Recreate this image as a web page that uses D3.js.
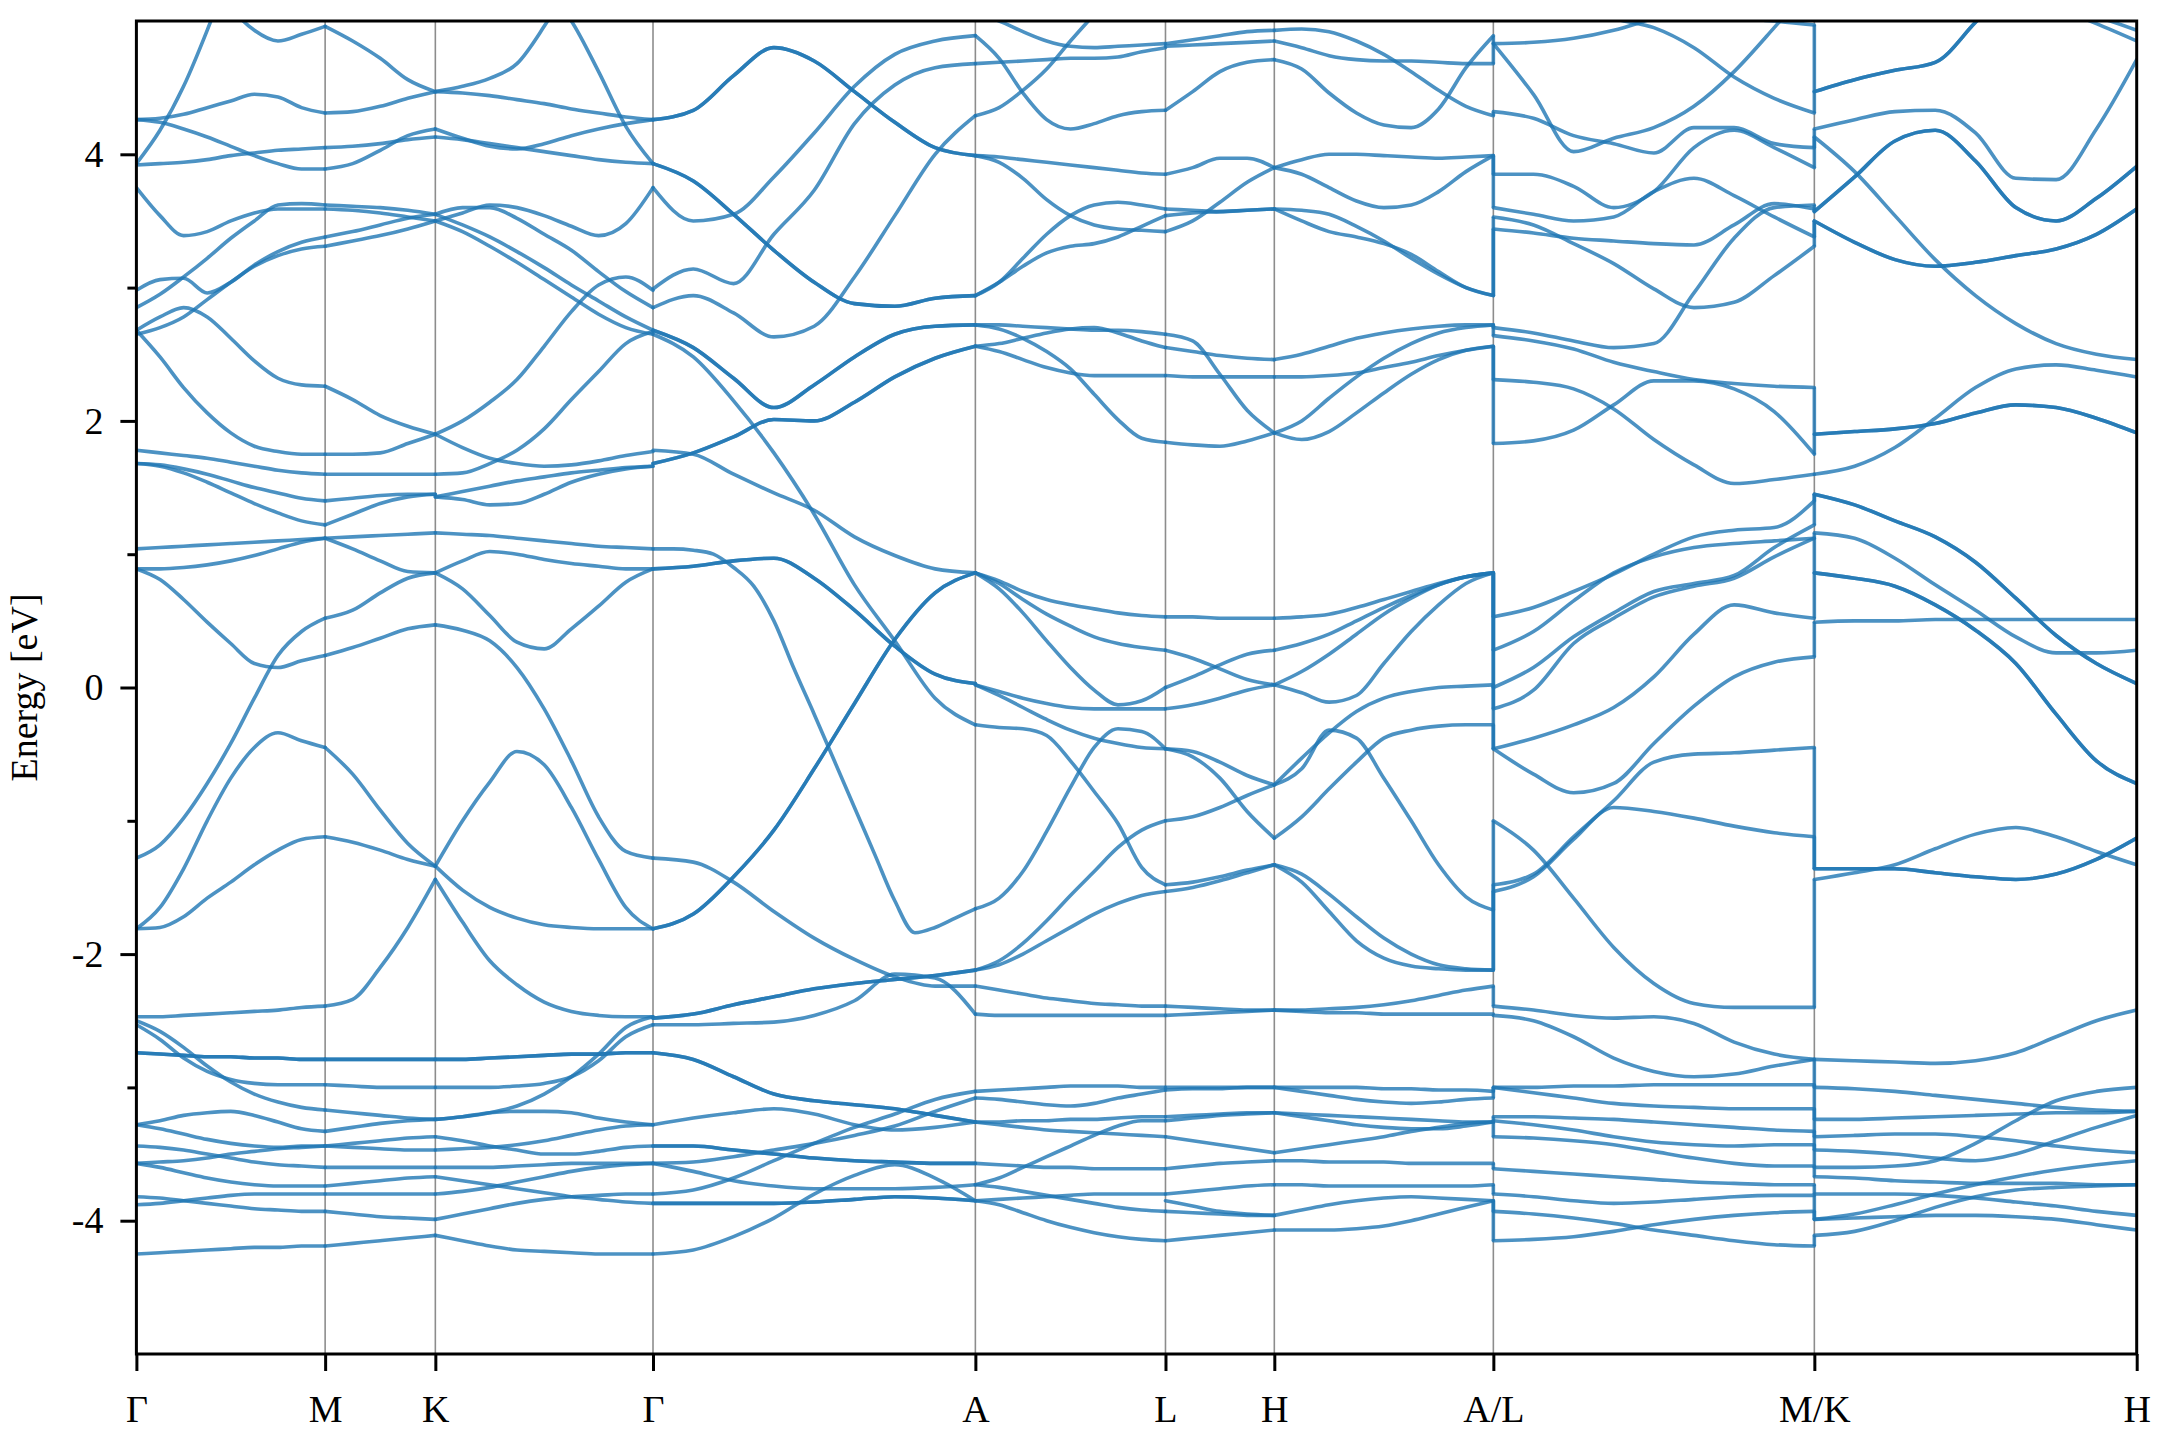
<!DOCTYPE html>
<html><head><meta charset="utf-8">
<script src="https://cdn.jsdelivr.net/npm/d3@7"></script>
<style>body{margin:0;background:#fff}svg{display:block}</style>
</head><body><svg id="c" width="2160" height="1440"></svg>
<script>
// k-path tick positions (distance units) and labels
const kTicks = [0, 1.37, 2.17, 3.75, 6.09, 7.47, 8.26, 9.85, 12.18, 14.52];
const kLabels = ["Γ","M","K","Γ","A","L","H","A/L","M/K","H"];
const yMajor = [-4, -2, 0, 2, 4];
const yMinor = [-3, -1, 1, 3];

// bands per segment: energies (eV) at evenly spaced k along the segment
const seg_GM = [
[3.93,4.18,4.51,4.93,5.4,5.9,6.3,6.6,6.8],
[6.2,5.9,5.6,5.35,5.1,4.93,4.85,4.90,4.96],
[4.26,4.27,4.30,4.35,4.40,4.45,4.43,4.35,4.31],
[4.26,4.24,4.19,4.13,4.06,3.99,3.93,3.89,3.89],
[3.92,3.93,3.94,3.96,3.99,4.01,4.03,4.04,4.05],
[3.75,3.54,3.39,3.42,3.50,3.56,3.59,3.59,3.59],
[2.85,2.95,3.08,3.22,3.37,3.50,3.62,3.63,3.62],
[2.98,3.06,3.07,2.96,3.04,3.17,3.27,3.34,3.38],
[2.65,2.70,2.78,2.91,3.04,3.16,3.24,3.29,3.31],
[2.68,2.78,2.85,2.78,2.62,2.45,2.32,2.27,2.26],
[2.68,2.48,2.25,2.06,1.91,1.81,1.77,1.75,1.75],
[1.78,1.76,1.74,1.72,1.69,1.66,1.63,1.61,1.60],
[1.68,1.67,1.64,1.60,1.55,1.50,1.46,1.42,1.40],
[1.68,1.66,1.61,1.54,1.46,1.38,1.31,1.25,1.22],
[1.04,1.05,1.06,1.07,1.08,1.09,1.10,1.11,1.12],
[0.89,0.89,0.90,0.92,0.95,0.99,1.04,1.09,1.12],
[0.89,0.81,0.66,0.49,0.33,0.18,0.15,0.20,0.24],
[-1.28,-1.18,-0.98,-0.72,-0.42,-0.08,0.24,0.42,0.52],
[-1.81,-1.65,-1.36,-1.0,-0.68,-0.45,-0.34,-0.40,-0.45],
[-1.81,-1.80,-1.72,-1.58,-1.46,-1.33,-1.22,-1.14,-1.12],
[-2.47,-2.47,-2.46,-2.45,-2.44,-2.43,-2.42,-2.40,-2.39],
[-2.53,-2.64,-2.78,-2.88,-2.94,-2.97,-2.98,-2.98,-2.98],
[-2.50,-2.58,-2.70,-2.84,-2.96,-3.05,-3.11,-3.15,-3.17],
[-2.74,-2.75,-2.76,-2.77,-2.77,-2.78,-2.78,-2.79,-2.79],
[-3.28,-3.25,-3.21,-3.19,-3.18,-3.21,-3.26,-3.31,-3.33],
[-3.28,-3.31,-3.35,-3.39,-3.42,-3.44,-3.45,-3.44,-3.44],
[-3.44,-3.45,-3.47,-3.50,-3.53,-3.56,-3.58,-3.59,-3.60],
[-3.57,-3.60,-3.64,-3.68,-3.71,-3.73,-3.74,-3.74,-3.74],
[-3.57,-3.56,-3.55,-3.53,-3.50,-3.48,-3.46,-3.45,-3.44],
[-3.82,-3.83,-3.85,-3.87,-3.89,-3.91,-3.92,-3.93,-3.93],
[-3.88,-3.87,-3.85,-3.83,-3.81,-3.80,-3.80,-3.80,-3.80],
[-4.25,-4.24,-4.23,-4.22,-4.21,-4.20,-4.20,-4.19,-4.19]
];
const seg_MK = [
[4.96,4.85,4.72,4.56,4.47],
[4.31,4.32,4.36,4.42,4.47],
[4.05,4.06,4.08,4.11,4.13],
[3.89,3.93,4.03,4.14,4.19],
[3.62,3.61,3.60,3.58,3.55],
[3.59,3.58,3.56,3.53,3.50],
[3.38,3.42,3.47,3.52,3.55],
[3.31,3.35,3.39,3.44,3.50],
[2.26,2.16,2.04,1.96,1.90],
[1.75,1.75,1.76,1.83,1.90],
[1.60,1.60,1.60,1.60,1.60],
[1.40,1.42,1.44,1.45,1.45],
[1.22,1.30,1.38,1.43,1.45],
[1.12,1.13,1.14,1.15,1.16],
[1.12,1.04,0.95,0.87,0.86],
[0.52,0.58,0.71,0.82,0.86],
[0.24,0.30,0.37,0.44,0.47],
[-0.45,-0.65,-0.92,-1.17,-1.34],
[-1.12,-1.16,-1.22,-1.29,-1.34],
[-2.39,-2.34,-2.10,-1.80,-1.44],
[-2.79,-2.79,-2.79,-2.79,-2.79],
[-2.98,-2.99,-3.00,-3.00,-3.00],
[-3.17,-3.19,-3.21,-3.23,-3.24],
[-3.33,-3.30,-3.27,-3.25,-3.24],
[-3.44,-3.42,-3.40,-3.38,-3.37],
[-3.44,-3.45,-3.46,-3.47,-3.47],
[-3.60,-3.60,-3.60,-3.60,-3.60],
[-3.74,-3.72,-3.70,-3.68,-3.67],
[-3.80,-3.80,-3.80,-3.80,-3.80],
[-3.93,-3.95,-3.97,-3.98,-3.99],
[-4.19,-4.17,-4.15,-4.13,-4.11]
];
const seg_KG = [
[4.47,4.51,4.57,4.68,4.96,5.3,5.6,5.9,6.2],
[6.4,6.1,5.8,5.5,5.25,5.0,4.62,4.21,3.93],
[4.47,4.46,4.44,4.41,4.38,4.34,4.31,4.28,4.26],
[4.13,4.11,4.08,4.05,4.02,3.99,3.96,3.94,3.93],
[4.19,4.12,4.06,4.04,4.08,4.14,4.19,4.23,4.26],
[3.55,3.60,3.60,3.52,3.40,3.28,3.12,2.97,2.85],
[3.50,3.56,3.62,3.60,3.54,3.46,3.39,3.48,3.75],
[3.55,3.47,3.38,3.27,3.15,3.02,2.90,2.78,2.68],
[3.50,3.42,3.31,3.19,3.06,2.93,2.80,2.70,2.65],
[1.90,2.00,2.14,2.31,2.56,2.82,3.02,3.08,2.98],
[1.90,1.80,1.72,1.68,1.66,1.67,1.70,1.74,1.77],
[1.60,1.61,1.68,1.78,1.94,2.16,2.37,2.58,2.67],
[1.43,1.41,1.37,1.38,1.45,1.54,1.60,1.64,1.66],
[1.43,1.47,1.51,1.55,1.58,1.61,1.63,1.65,1.66],
[1.16,1.15,1.14,1.12,1.10,1.08,1.06,1.05,1.04],
[0.86,0.95,1.02,1.00,0.96,0.93,0.91,0.89,0.89],
[0.86,0.74,0.54,0.34,0.29,0.44,0.61,0.79,0.89],
[0.47,0.43,0.35,0.15,-0.16,-0.55,-0.97,-1.23,-1.28],
[-1.34,-1.0,-0.71,-0.48,-0.58,-0.90,-1.29,-1.65,-1.81],
[-1.34,-1.52,-1.65,-1.73,-1.78,-1.80,-1.81,-1.81,-1.81],
[-1.44,-1.76,-2.05,-2.23,-2.36,-2.43,-2.46,-2.47,-2.47],
[-2.79,-2.79,-2.78,-2.77,-2.76,-2.75,-2.75,-2.74,-2.74],
[-3.00,-3.00,-3.00,-2.99,-2.97,-2.92,-2.80,-2.62,-2.53],
[-3.24,-3.22,-3.19,-3.14,-3.05,-2.92,-2.75,-2.55,-2.47],
[-3.24,-3.22,-3.19,-3.18,-3.18,-3.19,-3.23,-3.26,-3.28],
[-3.37,-3.40,-3.44,-3.47,-3.50,-3.50,-3.48,-3.45,-3.44],
[-3.47,-3.46,-3.45,-3.43,-3.40,-3.36,-3.32,-3.29,-3.28],
[-3.60,-3.60,-3.60,-3.59,-3.58,-3.57,-3.57,-3.57,-3.57],
[-3.67,-3.70,-3.73,-3.76,-3.79,-3.82,-3.84,-3.86,-3.87],
[-3.80,-3.78,-3.75,-3.71,-3.67,-3.63,-3.60,-3.58,-3.57],
[-3.99,-3.95,-3.91,-3.87,-3.84,-3.82,-3.81,-3.80,-3.80],
[-4.11,-4.15,-4.19,-4.22,-4.23,-4.24,-4.25,-4.25,-4.25]
];
const seg_GA = [
[4.26,4.33,4.59,4.80,4.70,4.47,4.24,4.05,3.99],
[3.93,3.80,3.55,3.28,3.04,2.88,2.86,2.92,2.94],
[3.75,3.50,3.55,3.83,4.16,4.51,4.75,4.85,4.89],
[2.99,3.14,3.03,3.40,3.73,4.23,4.52,4.65,4.68],
[2.85,2.94,2.81,2.63,2.71,3.08,3.54,4.00,4.29],
[2.68,2.55,2.32,2.10,2.27,2.48,2.65,2.71,2.72],
[2.65,2.48,2.15,1.76,1.30,0.77,0.35,-0.08,-0.28],
[1.78,1.75,1.60,1.46,1.33,1.13,0.99,0.89,0.86],
[1.68,1.76,1.88,2.01,2.00,2.14,2.33,2.47,2.56],
[1.04,1.04,1.03,1.00,0.90,0.76,0.50,0.14,-0.20,-0.55,-0.90,-1.25,-1.60,-1.84,-1.80,-1.73,-1.66],
[0.89,0.91,0.95,0.97,0.82,0.58,0.31,0.10,0.03],
[-1.81,-1.70,-1.42,-1.07,-0.61,-0.12,0.36,0.71,0.86],
[-1.28,-1.31,-1.46,-1.68,-1.88,-2.04,-2.17,-2.24,-2.24],
[-2.48,-2.45,-2.38,-2.32,-2.26,-2.22,-2.19,-2.16,-2.12],
[-2.53,-2.53,-2.52,-2.51,-2.46,-2.35,-2.15,-2.18,-2.45],
[-2.74,-2.79,-2.92,-3.05,-3.10,-3.13,-3.16,-3.21,-3.26],
[-3.28,-3.23,-3.19,-3.16,-3.20,-3.28,-3.32,-3.30,-3.26],
[-3.44,-3.44,-3.47,-3.50,-3.53,-3.55,-3.56,-3.57,-3.57],
[-3.57,-3.63,-3.70,-3.74,-3.76,-3.76,-3.76,-3.75,-3.73],
[-3.80,-3.77,-3.68,-3.55,-3.42,-3.30,-3.20,-3.09,-3.03],
[-3.57,-3.56,-3.52,-3.47,-3.42,-3.36,-3.29,-3.18,-3.08],
[-3.87,-3.87,-3.87,-3.87,-3.86,-3.84,-3.82,-3.83,-3.85],
[-4.25,-4.22,-4.12,-3.98,-3.80,-3.66,-3.58,-3.68,-3.85]
];
const seg_AL = [
[4.89,4.72,4.46,4.26,4.19,4.23,4.29,4.32,4.33],
[4.68,4.69,4.70,4.71,4.72,4.72,4.73,4.77,4.80],
[4.29,4.35,4.48,4.64,4.85,5.05,5.25,5.45,5.6],
[5.05,5.00,4.92,4.85,4.81,4.80,4.81,4.82,4.83],
[3.99,3.98,3.96,3.94,3.92,3.90,3.88,3.86,3.85],
[3.99,3.94,3.82,3.66,3.54,3.47,3.44,3.43,3.42],
[2.94,3.04,3.22,3.40,3.54,3.62,3.64,3.62,3.59],
[2.94,3.04,3.16,3.26,3.31,3.33,3.38,3.46,3.54],
[2.72,2.72,2.71,2.70,2.69,2.68,2.68,2.67,2.65],
[2.72,2.69,2.62,2.52,2.39,2.20,2.01,1.87,1.84],
[2.56,2.52,2.46,2.40,2.36,2.34,2.34,2.34,2.34],
[2.56,2.58,2.62,2.66,2.69,2.70,2.66,2.60,2.55],
[0.86,0.80,0.72,0.66,0.62,0.59,0.56,0.54,0.53],
[0.86,0.78,0.66,0.55,0.46,0.38,0.33,0.30,0.28],
[0.86,0.74,0.56,0.35,0.15,-0.02,-0.13,-0.10,0.00],
[0.02,-0.03,-0.08,-0.12,-0.15,-0.16,-0.16,-0.16,-0.16],
[0.02,-0.06,-0.15,-0.24,-0.32,-0.38,-0.42,-0.45,-0.46],
[-0.28,-0.30,-0.31,-0.36,-0.55,-0.78,-1.02,-1.35,-1.48],
[-1.66,-1.58,-1.38,-1.08,-0.75,-0.45,-0.31,-0.33,-0.46],
[-2.12,-2.05,-1.92,-1.75,-1.56,-1.38,-1.20,-1.07,-1.00],
[-2.12,-2.08,-2.00,-1.90,-1.80,-1.70,-1.62,-1.56,-1.53],
[-2.24,-2.27,-2.30,-2.33,-2.35,-2.37,-2.38,-2.39,-2.39],
[-2.45,-2.46,-2.46,-2.46,-2.46,-2.46,-2.46,-2.46,-2.46],
[-3.03,-3.02,-3.01,-3.00,-2.99,-2.99,-2.99,-3.00,-3.00],
[-3.08,-3.09,-3.11,-3.13,-3.14,-3.12,-3.08,-3.05,-3.02],
[-3.26,-3.26,-3.25,-3.25,-3.24,-3.24,-3.23,-3.22,-3.22],
[-3.26,-3.28,-3.30,-3.32,-3.33,-3.34,-3.35,-3.36,-3.37],
[-3.57,-3.58,-3.59,-3.60,-3.60,-3.61,-3.61,-3.61,-3.61],
[-3.73,-3.68,-3.60,-3.52,-3.44,-3.36,-3.29,-3.25,-3.25],
[-3.85,-3.84,-3.83,-3.82,-3.81,-3.80,-3.80,-3.80,-3.80],
[-3.85,-3.88,-3.94,-4.00,-4.05,-4.09,-4.12,-4.14,-4.15],
[-3.73,-3.75,-3.78,-3.81,-3.84,-3.87,-3.90,-3.92,-3.93]
];
const seg_LH = [
[4.81,4.82,4.83,4.84,4.85],
[4.83,4.86,4.89,4.92,4.93],
[4.33,4.47,4.62,4.69,4.71],
[3.85,3.90,3.97,3.97,3.90],
[3.42,3.50,3.64,3.79,3.90],
[3.59,3.58,3.57,3.58,3.59],
[3.54,3.56,3.57,3.58,3.59],
[2.65,2.60,2.35,2.08,1.91],
[2.55,2.52,2.49,2.47,2.46],
[2.34,2.33,2.33,2.33,2.33],
[1.84,1.82,1.81,1.85,1.91],
[0.53,0.53,0.52,0.52,0.52],
[0.28,0.22,0.14,0.06,0.02],
[0.00,0.08,0.17,0.25,0.28],
[-0.16,-0.13,-0.08,-0.02,0.02],
[-0.46,-0.48,-0.56,-0.66,-0.73],
[-0.46,-0.52,-0.68,-0.93,-1.13],
[-1.00,-0.97,-0.90,-0.81,-0.73],
[-1.48,-1.46,-1.42,-1.37,-1.33],
[-1.53,-1.50,-1.45,-1.39,-1.33],
[-2.39,-2.40,-2.41,-2.42,-2.42],
[-2.46,-2.45,-2.44,-2.43,-2.42],
[-3.00,-3.00,-3.00,-3.00,-3.00],
[-3.02,-3.01,-3.01,-3.00,-3.00],
[-3.22,-3.21,-3.20,-3.19,-3.19],
[-3.25,-3.23,-3.21,-3.20,-3.19],
[-3.37,-3.40,-3.43,-3.46,-3.49],
[-3.61,-3.59,-3.57,-3.56,-3.55],
[-3.80,-3.78,-3.76,-3.74,-3.73],
[-3.85,-3.89,-3.93,-3.95,-3.96],
[-3.93,-3.94,-3.95,-3.96,-3.96],
[-4.15,-4.13,-4.11,-4.09,-4.07]
];
const seg_HA = [
[4.93,4.94,4.92,4.85,4.75,4.62,4.48,4.36,4.29],
[4.85,4.80,4.74,4.71,4.70,4.70,4.69,4.68,4.68],
[4.71,4.64,4.46,4.31,4.22,4.20,4.34,4.65,4.89],
[3.90,3.96,4.00,4.00,3.99,3.98,3.97,3.98,3.99],
[3.90,3.85,3.75,3.65,3.60,3.62,3.72,3.87,3.99],
[3.59,3.58,3.55,3.46,3.35,3.22,3.10,3.00,2.94],
[3.59,3.50,3.42,3.38,3.33,3.25,3.12,3.00,2.94],
[2.46,2.50,2.56,2.62,2.66,2.69,2.71,2.72,2.72],
[2.33,2.33,2.34,2.36,2.40,2.44,2.49,2.53,2.56],
[1.91,2.00,2.17,2.33,2.47,2.58,2.66,2.70,2.72],
[1.91,1.86,1.92,2.06,2.21,2.35,2.46,2.53,2.56],
[0.52,0.53,0.55,0.60,0.66,0.72,0.78,0.83,0.86],
[0.28,0.33,0.40,0.50,0.60,0.69,0.77,0.83,0.86],
[0.02,0.12,0.25,0.40,0.55,0.67,0.77,0.83,0.86],
[0.02,-0.04,-0.11,-0.06,0.18,0.42,0.62,0.78,0.86],
[-0.73,-0.53,-0.34,-0.18,-0.08,-0.03,0.00,0.01,0.02],
[-0.73,-0.61,-0.32,-0.38,-0.68,-1.00,-1.33,-1.57,-1.67],
[-1.13,-0.97,-0.76,-0.56,-0.38,-0.32,-0.29,-0.28,-0.28],
[-1.33,-1.46,-1.68,-1.90,-2.03,-2.09,-2.11,-2.12,-2.12],
[-1.33,-1.40,-1.55,-1.72,-1.88,-2.00,-2.08,-2.11,-2.12],
[-2.42,-2.42,-2.41,-2.40,-2.38,-2.35,-2.31,-2.27,-2.24],
[-2.42,-2.43,-2.44,-2.44,-2.45,-2.45,-2.45,-2.45,-2.45],
[-3.00,-3.00,-3.00,-3.00,-3.01,-3.01,-3.02,-3.02,-3.03],
[-3.00,-3.03,-3.06,-3.09,-3.11,-3.12,-3.11,-3.09,-3.08],
[-3.19,-3.20,-3.21,-3.22,-3.23,-3.24,-3.25,-3.26,-3.26],
[-3.19,-3.22,-3.25,-3.28,-3.30,-3.31,-3.31,-3.29,-3.26],
[-3.49,-3.46,-3.43,-3.40,-3.37,-3.33,-3.30,-3.27,-3.26],
[-3.55,-3.55,-3.56,-3.56,-3.56,-3.57,-3.57,-3.57,-3.57],
[-3.73,-3.73,-3.74,-3.74,-3.74,-3.74,-3.74,-3.74,-3.73],
[-3.96,-3.92,-3.88,-3.85,-3.83,-3.82,-3.83,-3.84,-3.85],
[-4.07,-4.07,-4.07,-4.06,-4.04,-4.00,-3.95,-3.90,-3.85]
];
const seg_LM = [
[4.83,4.84,4.87,4.93,5.02,5.10,5.20,5.30,5.40],
[5.40,5.30,5.15,5.02,4.95,4.80,4.58,4.42,4.31],
[4.83,4.45,4.02,4.12,4.20,4.36,4.62,4.95,5.30],
[4.32,4.27,4.14,4.08,4.01,4.20,4.20,4.08,4.05],
[5.30,5.20,5.10,5.05,5.05,5.05,5.02,5.00,4.97],
[3.85,3.85,3.76,3.60,3.72,4.05,4.18,4.05,3.90],
[3.60,3.55,3.50,3.53,3.72,3.82,3.69,3.53,3.38],
[3.44,3.41,3.37,3.35,3.33,3.32,3.47,3.63,3.59],
[3.53,3.47,3.33,3.18,2.99,2.85,2.89,3.09,3.31],
[2.70,2.66,2.60,2.55,2.58,2.96,3.37,3.60,3.62],
[2.64,2.60,2.54,2.44,2.37,2.31,2.28,2.26,2.25],
[2.31,2.29,2.24,2.09,1.86,1.67,1.53,1.56,1.60],
[1.83,1.85,1.93,2.12,2.30,2.30,2.24,2.07,1.75],
[0.53,0.60,0.72,0.85,1.00,1.13,1.18,1.20,1.40],
[0.28,0.42,0.65,0.86,0.98,1.05,1.08,1.10,1.12],
[0.00,0.15,0.38,0.56,0.72,0.78,0.84,1.05,1.22],
[-0.16,-0.02,0.33,0.52,0.68,0.76,0.82,0.98,1.12],
[-0.46,-0.38,-0.28,-0.15,0.08,0.40,0.62,0.56,0.52],
[-0.46,-0.65,-0.79,-0.72,-0.42,-0.14,0.08,0.19,0.23],
[-1.00,-1.22,-1.58,-1.95,-2.22,-2.37,-2.40,-2.40,-2.40],
[-1.48,-1.40,-1.12,-0.85,-0.56,-0.50,-0.49,-0.47,-0.45],
[-1.53,-1.42,-1.14,-0.90,-0.93,-0.98,-1.04,-1.09,-1.12],
[-2.39,-2.42,-2.46,-2.48,-2.47,-2.52,-2.66,-2.75,-2.79],
[-2.46,-2.50,-2.62,-2.78,-2.88,-2.92,-2.90,-2.84,-2.79],
[-3.00,-3.00,-2.99,-2.99,-2.98,-2.98,-2.98,-2.98,-2.98],
[-3.00,-3.04,-3.08,-3.12,-3.14,-3.15,-3.16,-3.16,-3.16],
[-3.22,-3.22,-3.23,-3.24,-3.26,-3.28,-3.30,-3.32,-3.33],
[-3.25,-3.28,-3.32,-3.37,-3.41,-3.43,-3.44,-3.43,-3.43],
[-3.37,-3.38,-3.40,-3.43,-3.48,-3.53,-3.57,-3.59,-3.59],
[-3.61,-3.63,-3.65,-3.67,-3.69,-3.71,-3.72,-3.73,-3.73],
[-3.80,-3.82,-3.85,-3.87,-3.86,-3.84,-3.82,-3.81,-3.81],
[-3.93,-3.95,-3.98,-4.02,-4.07,-4.11,-4.15,-4.18,-4.19],
[-4.15,-4.14,-4.12,-4.08,-4.03,-3.99,-3.96,-3.94,-3.93]
];
const seg_KH = [
[4.47,4.56,4.63,4.69,4.99,5.3,5.6,5.8,5.9],
[6.0,5.8,5.6,5.45,5.3,5.2,5.1,4.98,4.85],
[5.9,5.7,5.5,5.35,5.25,5.15,5.08,5.03,4.93],
[4.19,4.26,4.32,4.33,4.16,3.82,3.81,4.19,4.71],
[3.57,3.83,4.10,4.18,3.95,3.60,3.50,3.67,3.91],
[3.50,3.34,3.21,3.16,3.19,3.24,3.29,3.40,3.59],
[4.13,3.87,3.54,3.21,2.94,2.73,2.58,2.50,2.46],
[1.90,1.92,1.94,1.98,2.06,2.12,2.10,2.02,1.91],
[1.60,1.66,1.80,2.02,2.25,2.39,2.42,2.38,2.33],
[1.45,1.37,1.25,1.13,0.94,0.67,0.39,0.18,0.03],
[1.16,1.12,0.97,0.77,0.58,0.38,0.26,0.26,0.28],
[0.86,0.82,0.76,0.62,0.43,0.18,-0.20,-0.55,-0.72],
[0.49,0.50,0.50,0.51,0.51,0.51,0.51,0.51,0.51],
[-1.36,-1.36,-1.36,-1.39,-1.42,-1.44,-1.40,-1.29,-1.13],
[-1.44,-1.39,-1.33,-1.21,-1.10,-1.05,-1.12,-1.23,-1.33],
[-2.79,-2.80,-2.81,-2.82,-2.80,-2.74,-2.62,-2.50,-2.42],
[-3.00,-3.01,-3.03,-3.06,-3.09,-3.12,-3.15,-3.17,-3.18],
[-3.24,-3.24,-3.23,-3.22,-3.21,-3.20,-3.19,-3.19,-3.18],
[-3.37,-3.36,-3.35,-3.35,-3.37,-3.40,-3.44,-3.47,-3.49],
[-3.47,-3.48,-3.50,-3.53,-3.55,-3.50,-3.40,-3.30,-3.21],
[-3.60,-3.60,-3.59,-3.55,-3.42,-3.25,-3.10,-3.03,-3.00],
[-3.67,-3.68,-3.70,-3.71,-3.72,-3.72,-3.72,-3.73,-3.73],
[-3.80,-3.80,-3.80,-3.81,-3.83,-3.86,-3.89,-3.93,-3.96],
[-3.99,-3.95,-3.88,-3.80,-3.73,-3.67,-3.62,-3.58,-3.55],
[-4.11,-4.08,-4.00,-3.90,-3.82,-3.77,-3.75,-3.74,-3.73],
[-3.99,-3.98,-3.97,-3.96,-3.96,-3.97,-3.99,-4.03,-4.07]
];

// doubly degenerate bands (index into the segment's band list)
const deg_GA = [0, 1, 5, 8, 10, 11, 13, 15, 17, 21];
const deg_KH = [0, 4, 5, 7, 9, 11, 13];
const deg_GM = [23];
const deg_MK = [20];
const deg_KG = [21];

// segment table: tick index at start/end of each branch
const segments = [
  {from:0, to:1, bands:seg_GM, deg:deg_GM}, {from:1, to:2, bands:seg_MK, deg:deg_MK},
  {from:2, to:3, bands:seg_KG, deg:deg_KG}, {from:3, to:4, bands:seg_GA, deg:deg_GA},
  {from:4, to:5, bands:seg_AL, deg:[]}, {from:5, to:6, bands:seg_LH, deg:[]},
  {from:6, to:7, bands:seg_HA, deg:[]}, {from:7, to:8, bands:seg_LM, deg:[]},
  {from:8, to:9, bands:seg_KH, deg:deg_KH}
];
// branch discontinuities: left segment end joined to right segment start
const jumps = [{left:6, right:7, tick:7}, {left:7, right:8, tick:8}];

const W = 2160, H = 1440;
const M = {l:136.4, r:2136.7, t:21, b:1354};
const FONT = "'Liberation Serif','Times New Roman',serif";
const COLOR = "#1f77b4";
const LW = 3.6, OP = 0.8;

const svg = d3.select("#c");
svg.append("rect").attr("width", W).attr("height", H).attr("fill", "#fff");

const x = d3.scaleLinear().domain([0, kTicks[kTicks.length-1]]).range([M.l, M.r]);
const y = d3.scaleLinear().domain([-5, 5]).range([M.b, M.t]);

svg.append("defs").append("clipPath").attr("id","clip")
  .append("rect").attr("x", M.l).attr("y", M.t).attr("width", M.r-M.l).attr("height", M.b-M.t);

// vertical high-symmetry lines
svg.append("g").selectAll("line").data(kTicks.slice(1, -1)).join("line")
  .attr("x1", d=>x(d)).attr("x2", d=>x(d)).attr("y1", M.t).attr("y2", M.b)
  .attr("stroke", "#000").attr("stroke-opacity", 0.45).attr("stroke-width", 1.6);

const g = svg.append("g").attr("clip-path", "url(#clip)");
const line = d3.line().x(d=>x(d[0])).y(d=>y(d[1])).curve(d3.curveMonotoneX);

function expand(s) { // band list with degenerate bands repeated
  const out = [];
  s.bands.forEach((b, i) => { out.push(b); if (s.deg.includes(i)) out.push(b); });
  return out;
}

segments.forEach(s => {
  const k0 = kTicks[s.from], k1 = kTicks[s.to];
  expand(s).forEach(b => {
    const pts = b.map((e,i) => [k0 + (k1-k0)*i/(b.length-1), e]);
    g.append("path").attr("d", line(pts)).attr("fill","none")
      .attr("stroke", COLOR).attr("stroke-opacity", OP).attr("stroke-width", LW)
      .attr("stroke-linecap","round");
  });
});

// vertical connectors at branch jumps (sorted band pairing from the bottom)
jumps.forEach(j => {
  const a = expand(segments[j.left]).map(b => b[b.length-1]).sort((p,q)=>p-q);
  const c = expand(segments[j.right]).map(b => b[0]).sort((p,q)=>p-q);
  const n = Math.min(a.length, c.length);
  for (let i = 0; i < n; i++) {
    if (Math.abs(a[i]-c[i]) < 0.01) continue;
    g.append("line").attr("x1", x(kTicks[j.tick])).attr("x2", x(kTicks[j.tick]))
      .attr("y1", y(a[i])).attr("y2", y(c[i]))
      .attr("stroke", COLOR).attr("stroke-opacity", OP).attr("stroke-width", LW);
  }
});

// axes
const fmt = d => d < 0 ? "-" + Math.abs(d) : String(d);
const ax = svg.append("g").attr("transform", `translate(${M.l},0)`)
  .call(d3.axisLeft(y).tickValues(yMajor).tickFormat(fmt).tickSize(16).tickPadding(17));
const axm = svg.append("g").attr("transform", `translate(${M.l},0)`)
  .call(d3.axisLeft(y).tickValues(yMinor).tickFormat("").tickSize(9));
const bx = svg.append("g").attr("transform", `translate(0,${M.b})`)
  .call(d3.axisBottom(x).tickValues(kTicks).tickFormat((d,i)=>kLabels[i]).tickSize(17).tickPadding(24));
[ax, axm, bx].forEach(a => {
  a.select(".domain").remove();
  a.selectAll(".tick line").attr("stroke","#000").attr("stroke-width", 3);
  a.selectAll("text").attr("font-family", FONT).attr("font-size", 38).attr("fill","#000");
});

svg.append("rect").attr("x", M.l).attr("y", M.t).attr("width", M.r-M.l).attr("height", M.b-M.t)
  .attr("fill","none").attr("stroke","#000").attr("stroke-width", 3);

svg.append("text").attr("transform", `translate(24,${(M.t+M.b)/2}) rotate(-90)`)
  .attr("text-anchor","middle").attr("dominant-baseline","central")
  .attr("font-family", FONT).attr("font-size", 38).text("Energy [eV]");
</script></body></html>
